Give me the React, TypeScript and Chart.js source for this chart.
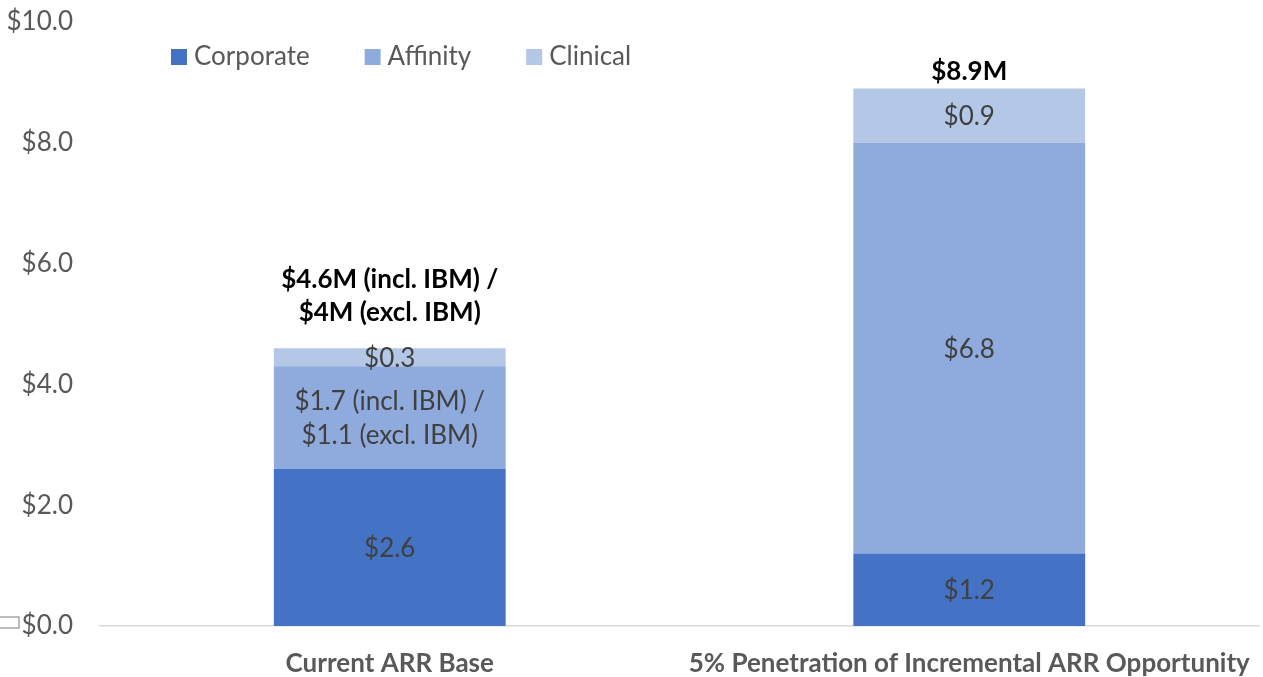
import React, { useEffect, useRef } from "react";
import { Chart, registerables } from "chart.js";

Chart.register(...registerables);

const categories = ["Current ARR Base", "5% Penetration of Incremental ARR Opportunity"];
const seriesNames = ["Corporate", "Affinity", "Clinical"];
const corporate = [2.6, 1.2];
const affinity = [1.7, 6.8];
const clinical = [0.3, 0.9];
const corporateLabels = ["$2.6", "$1.2"];
const affinityLabels = ["$1.7 (incl. IBM) /\n$1.1 (excl. IBM)", "$6.8"];
const clinicalLabels = ["$0.3", "$0.9"];
const totalLabels = ["$4.6M (incl. IBM) /\n$4M (excl. IBM)", "$8.9M"];
const yMin = 0;
const yMax = 10;
const yStep = 2;

const FONT = "Lato, 'Open Sans', sans-serif";
const colors = ["#4472C4", "#8FAADC", "#B4C7E7"];

const labelPlugin = {
  id: "customLabels",
  afterDatasetsDraw(chart: any, _args: any, opts: any) {
    const ctx = chart.ctx;
    const segLabels = [corporateLabels, affinityLabels, clinicalLabels];
    ctx.save();
    ctx.textAlign = "center";
    ctx.textBaseline = "middle";
    ctx.font = `26px ${FONT}`;
    ctx.fillStyle = "#404040";
    chart.data.datasets.forEach((_ds: any, di: number) => {
      const meta = chart.getDatasetMeta(di);
      meta.data.forEach((el: any, i: number) => {
        const lines = segLabels[di][i].split("\n");
        const cy = (el.y + el.base) / 2;
        const lh = 34;
        lines.forEach((ln: string, li: number) => {
          ctx.fillText(ln, el.x, cy + (li - (lines.length - 1) / 2) * lh + 1);
        });
      });
    });
    ctx.font = `bold 26px ${FONT}`;
    ctx.fillStyle = "#000000";
    const lastMeta = chart.getDatasetMeta(chart.data.datasets.length - 1);
    lastMeta.data.forEach((el: any, i: number) => {
      const lines = totalLabels[i].split("\n");
      const gap = (opts.totalGaps || [])[i] ?? 17;
      const lastY = el.y - gap;
      lines.forEach((ln: string, li: number) => {
        ctx.fillText(ln, el.x, lastY - (lines.length - 1 - li) * 33);
      });
    });
    ctx.restore();
  },
  afterDraw(chart: any) {
    const ctx = chart.ctx;
    const area = chart.chartArea;
    ctx.save();
    ctx.font = `26px ${FONT}`;
    ctx.textBaseline = "middle";
    ctx.textAlign = "left";
    let x = area.left + 71;
    const y = area.top + 35;
    chart.data.datasets.forEach((ds: any) => {
      ctx.fillStyle = ds.backgroundColor;
      ctx.fillRect(x, y - 8, 16, 16);
      ctx.fillStyle = "#595959";
      ctx.fillText(ds.label, x + 23, y);
      x += 23 + ctx.measureText(ds.label).width + 55;
    });
    const by = chart.scales.y.getPixelForValue(0);
    ctx.strokeStyle = "#A6A6A6";
    ctx.lineWidth = 1.5;
    ctx.strokeRect(-2, by - 9, 21, 11);
    ctx.restore();
  },
};

export default function App() {
  const ref = useRef<HTMLCanvasElement>(null);
  useEffect(() => {
    if (!ref.current) return;
    const data = [corporate, affinity, clinical];
    const chart = new Chart(ref.current, {
      type: "bar",
      data: {
        labels: categories,
        datasets: seriesNames.map((name, i) => ({
          label: name,
          data: data[i],
          backgroundColor: colors[i],
          borderWidth: 0,
          barPercentage: 0.4,
          categoryPercentage: 1,
        })),
      },
      options: {
        animation: false,
        responsive: true,
        maintainAspectRatio: false,
        layout: { padding: { top: 0, right: 4, left: 0, bottom: 0 } },
        plugins: {
          legend: { display: false },
          tooltip: { enabled: false },
          customLabels: { totalGaps: [36, 17] },
        } as any,
        scales: {
          x: {
            stacked: true,
            grid: { display: false, drawTicks: false },
            border: { display: true, color: "#D9D9D9", width: 1.5 },
            ticks: {
              padding: 22,
              color: "#595959",
              font: { family: FONT, size: 26, weight: "bold" },
              maxRotation: 0,
              autoSkip: false,
            },
            afterFit: (s: any) => {
              s.height = 51;
              s.paddingLeft = 0;
              s.paddingRight = 0;
            },
          },
          y: {
            stacked: true,
            min: yMin,
            max: yMax,
            grid: { display: false, drawTicks: false },
            border: { display: false },
            ticks: {
              stepSize: yStep,
              padding: 27,
              color: "#595959",
              font: { family: FONT, size: 26 },
              callback: (v: any) => "$" + Number(v).toFixed(1),
            },
            afterFit: (s: any) => {
              s.width = 100;
              s.paddingTop = 22;
              s.paddingBottom = 0;
            },
          },
        },
      },
      plugins: [labelPlugin],
    });
    return () => chart.destroy();
  }, []);
  return (
    <div style={{ position: "fixed", left: 0, top: 0, width: 1263, height: 677, background: "#fff" }}>
      <canvas ref={ref} />
    </div>
  );
}
